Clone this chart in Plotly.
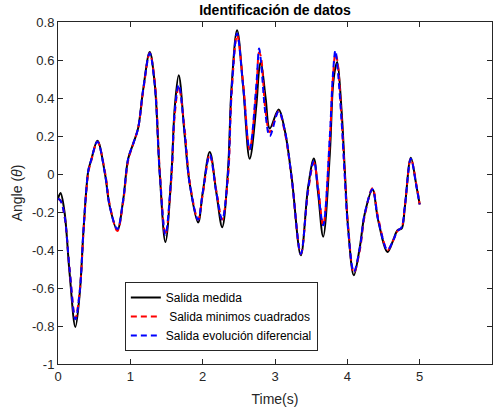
import plotly.graph_objects as go

t = [0.0, 0.035, 0.09, 0.16, 0.24, 0.30, 0.35, 0.39, 0.42, 0.46, 0.545, 0.65, 0.715, 0.82, 0.90,
     0.97, 1.04, 1.107, 1.176, 1.268, 1.337, 1.407, 1.485, 1.568, 1.614, 1.669, 1.75, 1.82, 1.937,
     2.0, 2.098, 2.19, 2.27, 2.35, 2.40, 2.476, 2.56, 2.65, 2.744, 2.78, 2.804, 2.87, 2.928, 3.05,
     3.135, 3.23, 3.357, 3.458, 3.537, 3.597, 3.666, 3.758, 3.80, 3.835, 3.86, 3.92, 3.965, 4.01,
     4.09, 4.173, 4.24, 4.348, 4.426, 4.556, 4.633, 4.694, 4.75, 4.795, 4.878, 4.957, 5.0]

medida = [-0.13, -0.10, -0.20, -0.52, -0.805, -0.63, -0.31, -0.09, 0.02, 0.075, 0.175, 0.0, -0.17, -0.296, -0.14,
          0.08, 0.16, 0.24, 0.44, 0.642, 0.476, 0.0, -0.358, 0.0, 0.35, 0.52, 0.21, -0.05, -0.255,
          -0.10, 0.116, -0.10, -0.28, 0.02, 0.46, 0.756, 0.46, 0.08, 0.37, 0.55, 0.59, 0.40, 0.24, 0.339,
          0.23, -0.016, -0.428, -0.068, 0.081, -0.103, -0.33, 0.107, 0.458, 0.56, 0.59, 0.335, 0.02, -0.28,
          -0.533, -0.384, -0.21, -0.082, -0.244, -0.41, -0.349, -0.296, -0.288, -0.174, 0.086, -0.068, -0.16]

minimos = [-0.13, -0.14, -0.22, -0.50, -0.76, -0.62, -0.32, -0.10, 0.01, 0.07, 0.17, 0.01, -0.16, -0.30, -0.15,
           0.07, 0.16, 0.24, 0.43, 0.635, 0.49, 0.02, -0.32, -0.02, 0.31, 0.46, 0.24, -0.04, -0.24,
           -0.11, 0.10, -0.09, -0.24, -0.02, 0.42, 0.73, 0.48, 0.13, 0.45, 0.64, 0.62, 0.33, 0.22, 0.33,
           0.22, -0.02, -0.42, -0.09, 0.06, -0.07, -0.27, 0.18, 0.50, 0.63, 0.60, 0.30, 0.0, -0.27,
           -0.52, -0.40, -0.22, -0.075, -0.23, -0.40, -0.35, -0.30, -0.28, -0.17, 0.08, -0.06, -0.16]

evolucion = [-0.13, -0.14, -0.22, -0.50, -0.765, -0.62, -0.31, -0.09, 0.02, 0.075, 0.17, 0.0, -0.17, -0.29, -0.14,
             0.08, 0.16, 0.24, 0.44, 0.635, 0.47, 0.0, -0.32, 0.0, 0.33, 0.47, 0.22, -0.05, -0.24,
             -0.10, 0.10, -0.10, -0.24, 0.0, 0.44, 0.74, 0.46, 0.13, 0.48, 0.66, 0.60, 0.31, 0.20, 0.33,
             0.23, -0.02, -0.42, -0.08, 0.07, -0.09, -0.27, 0.20, 0.52, 0.65, 0.58, 0.28, -0.02, -0.29,
             -0.515, -0.39, -0.21, -0.08, -0.24, -0.40, -0.35, -0.30, -0.28, -0.17, 0.08, -0.07, -0.16]

x_ticks = [0, 1, 2, 3, 4, 5, 6]
y_ticks = [-1, -0.8, -0.6, -0.4, -0.2, 0, 0.2, 0.4, 0.6, 0.8]
y_tick_text = ["-1", "-0.8", "-0.6", "-0.4", "-0.2", "0", "0.2", "0.4", "0.6", "0.8"]

FONT = "Liberation Sans, Arial, Helvetica, sans-serif"
AX = "#262626"

fig = go.Figure()
fig.add_trace(go.Scatter(x=t, y=medida, mode="lines", name="Salida medida",
                         line=dict(color="black", width=2, shape="spline", smoothing=1.0)))
fig.add_trace(go.Scatter(x=t, y=minimos, mode="lines", name=" Salida minimos cuadrados",
                         line=dict(color="red", width=2, dash="6px,4px", shape="spline", smoothing=1.0)))
fig.add_trace(go.Scatter(x=t, y=evolucion, mode="lines", name="Salida evolución diferencial",
                         line=dict(color="blue", width=2, dash="6px,4px", shape="spline", smoothing=1.0)))

axis_common = dict(showline=True, linecolor=AX, linewidth=1, mirror="ticks", ticks="inside",
                   ticklen=5, tickcolor=AX, showgrid=False, zeroline=False,
                   tickfont=dict(family=FONT, size=13, color=AX))

fig.update_layout(
    width=494, height=411,
    margin=dict(l=58, r=2, t=22, b=47),
    paper_bgcolor="white", plot_bgcolor="white",
    title=dict(text="<b>Identificación de datos</b>", x=0.5567, xanchor="center", y=0.975, yanchor="middle",
               font=dict(family=FONT, size=14, color="black")),
    xaxis=dict(range=[0, 6], tickvals=x_ticks, ticktext=[str(v) for v in x_ticks],
               title=dict(text="Time(s)", font=dict(family=FONT, size=14, color=AX), standoff=11),
               **axis_common),
    yaxis=dict(range=[-1, 0.8], tickvals=y_ticks, ticktext=y_tick_text,
               title=dict(text="Angle (<i>θ</i>)", font=dict(family=FONT, size=14, color=AX), standoff=6),
               **axis_common),
    legend=dict(x=0.154, y=0.24, xanchor="left", yanchor="top",
                bgcolor="white", bordercolor=AX, borderwidth=1,
                font=dict(family=FONT, size=12, color="black"),
                tracegroupgap=0, itemwidth=30),
    showlegend=True,
)

fig.write_html("out.html")
